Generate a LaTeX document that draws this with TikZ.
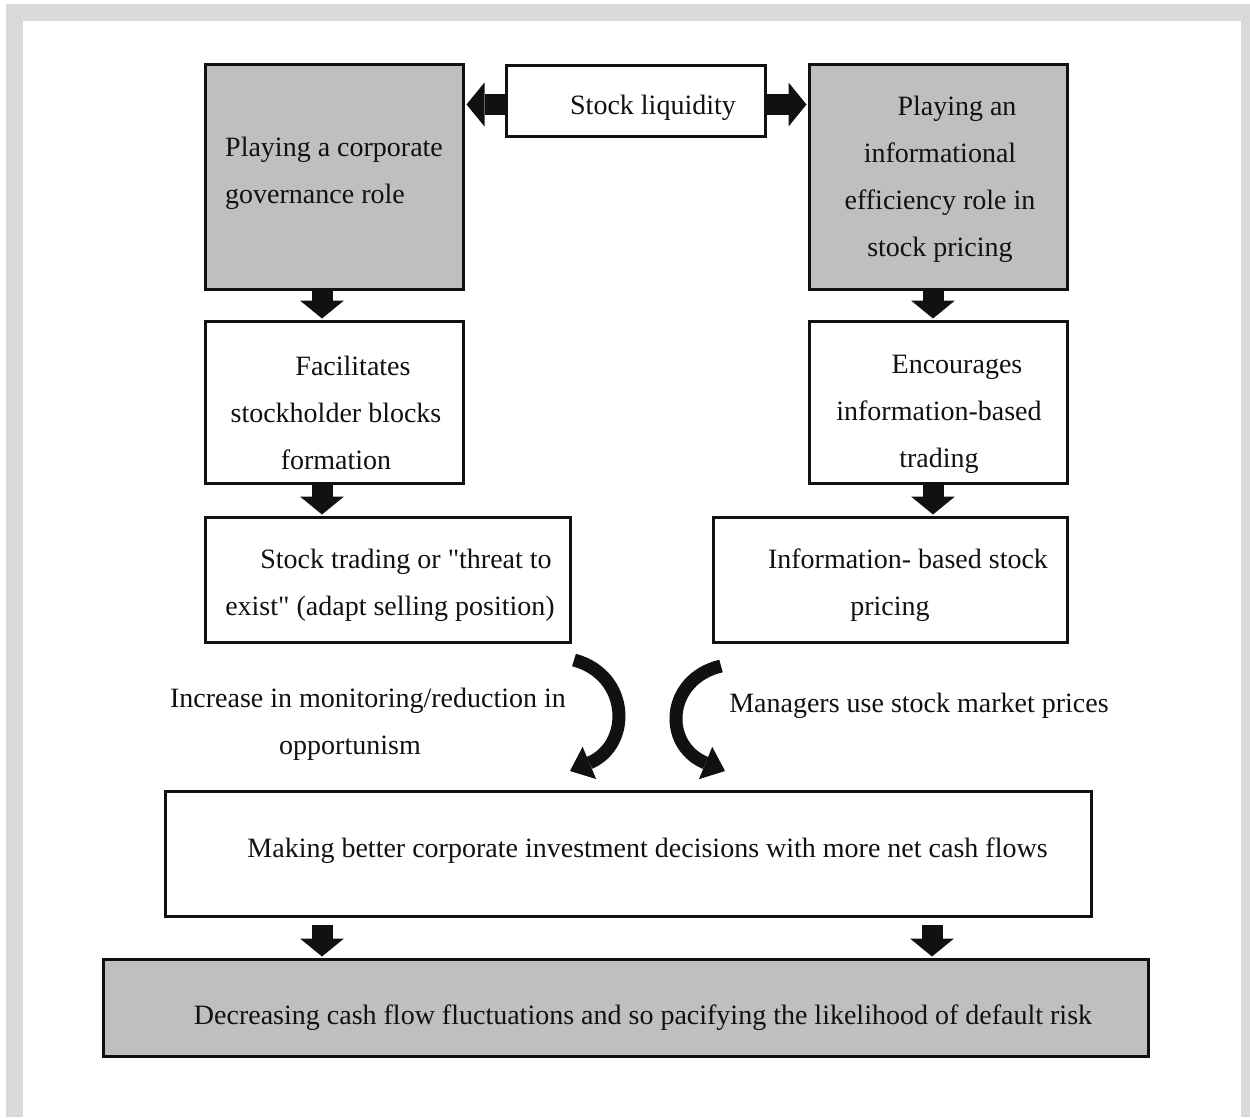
\documentclass[tikz,border=0pt]{standalone}
\usepackage{fontspec}
\setmainfont{Liberation Serif}
\usetikzlibrary{arrows.meta}
\definecolor{framegray}{HTML}{D9D9D9}
\definecolor{boxgray}{HTML}{BFBFBF}
\definecolor{ink}{HTML}{111111}
\tikzset{
  box/.style={draw=ink, line width=3pt, rectangle, inner sep=0pt},
  grey/.style={fill=boxgray},
  txt/.style={inner sep=0pt, align=center, font={\fontsize{28}{47}\selectfont}, text=ink},
  blk/.style={draw=ink, line width=21pt,
    -{Triangle[length=18pt 0 0, width=44pt 0 0, line width=0pt 0 0]}},
  curv/.style={draw=ink, line width=13pt,
    -{Triangle[length=21pt 0 0, width=35pt 0 0, line width=0pt 0 0]}},
}
\newcommand\sq{\XeTeXglyph\XeTeXcharglyph"22\relax}
\begin{document}
\begin{tikzpicture}[x=1pt, y=-1pt]
\useasboundingbox (0,0) rectangle (1250,1117);
\fill[framegray] (6,4) rectangle (1250,1117);
\fill[white] (23,21) rectangle (1241,1117);

% boxes
\node[box, grey, minimum width=258pt, minimum height=225pt] (gov) at (334.5,177) {};
\node[box, minimum width=259pt, minimum height=71pt] (liq) at (636,101) {};
\node[box, grey, minimum width=258pt, minimum height=225pt] (info) at (938.5,177) {};
\node[box, minimum width=258pt, minimum height=162pt] (facil) at (334.5,402.5) {};
\node[box, minimum width=258pt, minimum height=162pt] (enc) at (938.5,402.5) {};
\node[box, minimum width=365pt, minimum height=125pt] (trade) at (388,580) {};
\node[box, minimum width=354pt, minimum height=125pt] (ibp) at (890.5,580) {};
\node[box, minimum width=926pt, minimum height=125pt] (make) at (628.5,854) {};
\node[box, grey, minimum width=1045pt, minimum height=97pt] (dec) at (626,1008) {};

% texts
\node[txt] (liqt) at (653,108) {Stock liquidity};
\node[txt, anchor=west, align=left] (govt) at (225,173) {Playing a corporate\\governance role};
\node[txt] (infot) at (940,179) {\hspace*{34pt}Playing an\\informational\\efficiency role in\\stock pricing};
\node[txt] (facilt) at (336,413) {\hspace*{34pt}Facilitates\\stockholder blocks\\formation};
\node[txt] (enct) at (939,414) {\hspace*{36pt}Encourages\\information-based\\trading};
\node[txt] (tradet) at (390,585.5) {\hspace*{32pt}Stock trading or \sq threat to\\exist\sq\ (adapt selling position)};
\node[txt] (ibpt) at (890,585.5) {\hspace*{36pt}Information- based stock\\pricing};
\node[txt] (inct) at (350,724) {\hspace*{36pt}Increase in monitoring/reduction in\\opportunism};
\node[txt] (mant) at (919,706) {Managers use stock market prices};
\node[txt] (makt) at (647.5,851) {Making better corporate investment decisions with more net cash flows};
\node[txt] (dect) at (643,1018) {Decreasing cash flow fluctuations and so pacifying the likelihood of default risk};

% connector guides
\coordinate (xl) at (322,0);
\coordinate (xr) at (933,0);
\coordinate (xbr) at (932,0);
\coordinate (hy) at (0,104.5);

% block arrows
\draw[blk] (liq.west |- hy) -- ([xshift=1.5pt]gov.east |- hy);
\draw[blk] (liq.east |- hy) -- ([xshift=-1.5pt]info.west |- hy);
\draw[blk] (gov.south -| xl) -- ([yshift=1.5pt]facil.north -| xl);
\draw[blk] (facil.south -| xl) -- ([yshift=1.5pt]trade.north -| xl);
\draw[blk] (info.south -| xr) -- ([yshift=1.5pt]enc.north -| xr);
\draw[blk] (enc.south -| xr) -- ([yshift=1.5pt]ibp.north -| xr);
\draw[blk, shorten <=7pt] (make.south -| xl) -- ([yshift=1.5pt]dec.north -| xl);
\draw[blk, shorten <=7pt] (make.south -| xbr) -- ([yshift=1.5pt]dec.north -| xbr);

% curved arrows
\coordinate (cl1) at (574,660);
\coordinate (cl2) at (570,771);
\coordinate (cr1) at (721,666);
\coordinate (cr2) at (725,771);
\draw[curv] (cl1) .. controls (630,675) and (632,745) .. (cl2);
\draw[curv] (cr1) .. controls (666,679) and (662,745) .. (cr2);
\end{tikzpicture}
\end{document}
